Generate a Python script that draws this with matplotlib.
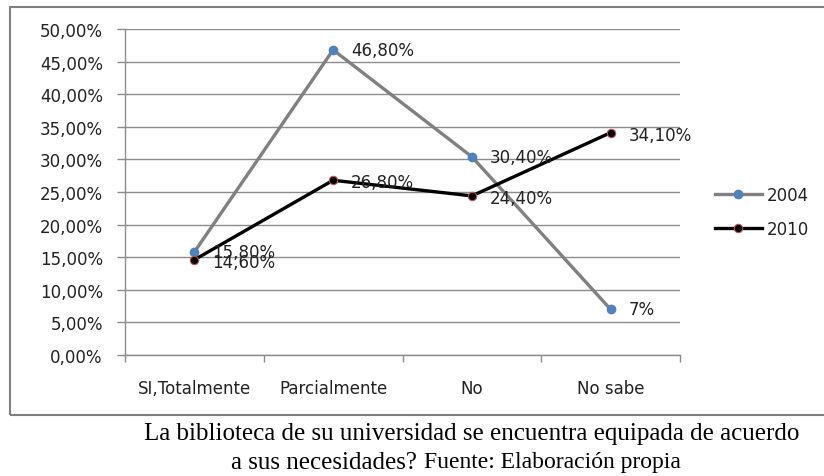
import matplotlib
matplotlib.use("Agg")
import matplotlib.pyplot as plt
from matplotlib.patches import Rectangle
from matplotlib.ticker import FuncFormatter, FixedLocator

categories = ["SI,Totalmente", "Parcialmente", "No", "No sabe"]
values_2004 = [15.8, 46.8, 30.4, 7.0]
values_2010 = [14.6, 26.8, 24.4, 34.1]
labels_2004 = ["15,80%", "46,80%", "30,40%", "7%"]
labels_2010 = ["14,60%", "26,80%", "24,40%", "34,10%"]
series_names = ["2004", "2010"]
yticks = [0, 5, 10, 15, 20, 25, 30, 35, 40, 45, 50]

W, H = 824, 477
fig = plt.figure(figsize=(W / 100, H / 100), dpi=100)
ax = fig.add_axes([125 / W, 1 - 356 / H, 555 / W, 326 / H])

grid_c = "#8c8c8c"
txt_c = "#222222"
fs = 12
x = list(range(len(categories)))
ax.plot(x, values_2004, color="#808080", lw=2.4, marker="o", ms=6,
        mfc="#4F81BD", mec="#4F81BD", label=series_names[0], zorder=3)
ax.plot(x, values_2010, color="#000000", lw=2.4, marker="o", ms=6,
        mfc="#000000", mec="#C0504D", mew=0.8, label=series_names[1], zorder=4)

for xi, v, t in zip(x, values_2004, labels_2004):
    ax.annotate(t, (xi, v), xytext=(13, 0), textcoords="offset points",
                ha="left", va="center", fontsize=fs, color=txt_c, zorder=5)
for xi, v, t in zip(x, values_2010, labels_2010):
    ax.annotate(t, (xi, v), xytext=(13, -1.5), textcoords="offset points",
                ha="left", va="center", fontsize=fs, color=txt_c, zorder=5)

ax.set_xlim(-0.5, len(categories) - 0.5)
ax.set_ylim(0, 50)
ax.set_yticks(yticks)
ax.yaxis.set_major_formatter(FuncFormatter(lambda v, p: f"{v:.2f}".replace(".", ",") + "%"))
ax.set_xticks(x)
ax.set_xticklabels(categories)
ax.xaxis.set_minor_locator(FixedLocator([i - 0.5 for i in range(len(categories) + 1)]))
ax.tick_params(axis="x", which="major", length=0, pad=17, labelsize=fs, labelcolor=txt_c)
ax.tick_params(axis="x", which="minor", length=5, color=grid_c, width=1)
ax.tick_params(axis="y", length=6, color=grid_c, width=1, pad=10, labelsize=fs, labelcolor=txt_c)
ax.grid(axis="y", color=grid_c, lw=1)
ax.set_axisbelow(True)
for s in ["top", "right"]:
    ax.spines[s].set_visible(False)
for s in ["left", "bottom"]:
    ax.spines[s].set_color(grid_c)
    ax.spines[s].set_linewidth(1)

leg = fig.legend(loc="center left", bbox_to_anchor=(715 / W, 1 - 213 / H),
                 frameon=False, fontsize=fs, handlelength=2.8, handletextpad=0.3,
                 labelspacing=0.95, borderpad=0, borderaxespad=0)
for t in leg.get_texts():
    t.set_color(txt_c)

fig.add_artist(Rectangle((10 / W, 1 - 416 / H), 830 / W, 408 / H, transform=fig.transFigure,
                         fill=False, edgecolor="#808080", lw=1.5, clip_on=False))

fig.text(472 / W, 1 - 434 / H, "La biblioteca de su universidad se encuentra equipada de acuerdo",
         ha="center", va="center", fontsize=18, family="Liberation Serif", color="#000000")
fig.text(231 / W, 1 - 463 / H, "a sus necesidades?", ha="left", va="center",
         fontsize=18, family="Liberation Serif", color="#000000")
fig.text(424 / W, 1 - 463 / H, "Fuente: Elaboración propia", ha="left", va="center",
         fontsize=17, family="Liberation Serif", color="#000000")

fig.savefig("out.png", dpi=100)
